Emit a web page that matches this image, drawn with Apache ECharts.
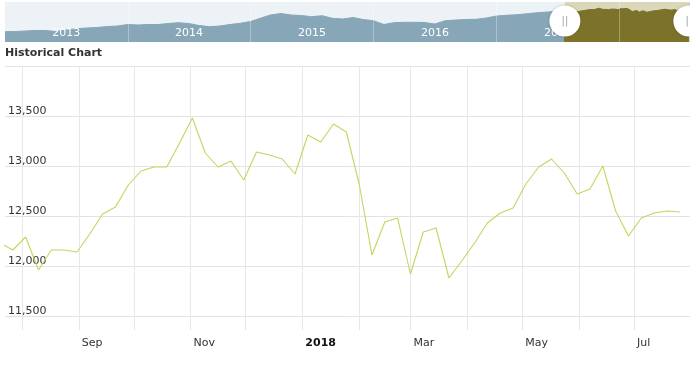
<!DOCTYPE html>
<html>
<head>
<meta charset="utf-8">
<script src="https://cdn.jsdelivr.net/npm/echarts@6/dist/echarts.min.js"></script>
<style>
html,body{margin:0;padding:0;background:#fff;}
#chart{width:690px;height:382px;}
</style>
</head>
<body>
<div id="chart"></div>
<script>
// ---- Main chart data (weekly closes) ----
const weekDates = [
  '2017-07-20','2017-07-27','2017-08-03','2017-08-10','2017-08-17','2017-08-24','2017-08-31',
  '2017-09-07','2017-09-14','2017-09-21','2017-09-28','2017-10-05','2017-10-12','2017-10-19','2017-10-26',
  '2017-11-02','2017-11-09','2017-11-16','2017-11-23','2017-11-30','2017-12-07','2017-12-14','2017-12-21','2017-12-28',
  '2018-01-04','2018-01-11','2018-01-18','2018-01-25','2018-02-01','2018-02-08','2018-02-15','2018-02-22',
  '2018-03-01','2018-03-08','2018-03-15','2018-03-22','2018-03-29','2018-04-05','2018-04-12','2018-04-19','2018-04-26',
  '2018-05-03','2018-05-10','2018-05-17','2018-05-24','2018-05-31','2018-06-07','2018-06-14','2018-06-21','2018-06-28',
  '2018-07-05','2018-07-12','2018-07-19','2018-07-26'
];
const closeValues = [
  12230,12160,12290,11960,12160,12160,12140,
  12320,12520,12590,12810,12950,12990,12990,13230,
  13480,13130,12990,13050,12860,13140,13110,13070,12920,
  13310,13240,13420,13340,12820,12110,12440,12480,
  11920,12340,12380,11880,12050,12230,12430,12530,12580,
  12820,12990,13070,12930,12720,12770,13000,12550,12300,
  12480,12530,12550,12540
];

// ---- Navigator history (monthly, Jan 2013 - Jul 2017) ----
const navMonths = [
  '2013-01-01','2013-02-01','2013-03-01','2013-04-01','2013-05-01','2013-06-01','2013-07-01','2013-08-01','2013-09-01','2013-10-01','2013-11-01','2013-12-01',
  '2014-01-01','2014-02-01','2014-03-01','2014-04-01','2014-05-01','2014-06-01','2014-07-01','2014-08-01','2014-09-01','2014-10-01','2014-11-01','2014-12-01',
  '2015-01-01','2015-02-01','2015-03-01','2015-04-01','2015-05-01','2015-06-01','2015-07-01','2015-08-01','2015-09-01','2015-10-01','2015-11-01','2015-12-01',
  '2016-01-01','2016-02-01','2016-03-01','2016-04-01','2016-05-01','2016-06-01','2016-07-01','2016-08-01','2016-09-01','2016-10-01','2016-11-01','2016-12-01',
  '2017-01-01','2017-02-01','2017-03-01','2017-04-01','2017-05-01','2017-06-01','2017-07-01'
];
const navHistory = [
  4120,4200,4400,4600,4600,4200,4800,5320,5600,5800,6200,6400,
  7000,6800,7000,7000,7400,7720,7400,6600,6120,6400,7000,7480,
  8200,9600,10800,11400,10800,10600,10120,10520,9480,9200,9800,9000,
  8520,7000,7720,7880,7880,7800,7200,8520,8800,9000,9080,9600,
  10400,10680,10920,11280,11720,12000,12280
];

// ---- Axis ticks / labels ----
const monthTicks = ['2017-08-01','2017-09-01','2017-10-01','2017-11-01','2017-12-01','2018-01-01',
  '2018-02-01','2018-03-01','2018-04-01','2018-05-01','2018-06-01','2018-07-01'];
const monthLabelTicks = ['2017-09-01','2017-11-01','2018-01-01','2018-03-01','2018-05-01','2018-07-01'];
const monthNames = ['Jan','Feb','Mar','Apr','May','Jun','Jul','Aug','Sep','Oct','Nov','Dec'];
const yTicks = [11500, 12000, 12500, 13000, 13500, 14000];
const yearTicks = ['2014-01-01','2015-01-01','2016-01-01','2017-01-01','2018-01-01'];
const yearLabelTicks = ['2013-07-02','2014-07-02','2015-07-02','2016-07-02','2017-07-02'];

const ts = s => new Date(s).getTime();
const mainMin = Date.UTC(2017, 6, 22, 17);
const mainMax = Date.UTC(2018, 6, 31, 14);
const navMin = Date.UTC(2013, 0, 1);
const navMax = Date.UTC(2018, 6, 29, 12);

const mainData = weekDates.map((d, i) => [ts(d), closeValues[i]]);
const navData = navMonths.map((d, i) => [ts(d), navHistory[i]]).concat(mainData);

const FONT = 'DejaVu Sans';
const chart = echarts.init(document.getElementById('chart'), null, {renderer: 'canvas'});
chart.setOption({
  animation: false,
  backgroundColor: '#fff',
  title: {
    text: 'Historical Chart', left: 5, top: 48, padding: 0,
    textStyle: {fontFamily: FONT, fontSize: 11, fontWeight: 'bold', color: '#333'}
  },
  grid: [
    {left: 5, right: 0, top: 66, height: 250, show: false},
    {left: 5, right: 0, top: 2, height: 40, show: true, backgroundColor: '#edf2f6', borderWidth: 0}
  ],
  xAxis: [
    {
      type: 'value', gridIndex: 0, min: mainMin, max: mainMax,
      axisLine: {show: false},
      axisTick: {show: true, length: 14, customValues: monthTicks.map(ts), lineStyle: {color: '#e6e6e6'}},
      splitLine: {show: true, lineStyle: {color: '#e8e8e8', width: 1}},
      axisLabel: {
        customValues: monthLabelTicks.map(ts),
        align: 'left', padding: [0, 0, 0, 3], margin: 22,
        fontFamily: FONT, fontSize: 11, color: '#333',
        formatter: function (v) {
          const d = new Date(v);
          if (d.getUTCMonth() === 0) return '{b|' + d.getUTCFullYear() + '}';
          return monthNames[d.getUTCMonth()];
        },
        rich: {b: {fontFamily: FONT, fontSize: 11, fontWeight: 'bold', color: '#111'}}
      }
    },
    {
      type: 'value', gridIndex: 1, min: navMin, max: navMax, z: 4,
      axisLine: {show: false},
      axisTick: {show: false, customValues: yearTicks.map(ts)},
      splitLine: {show: true, lineStyle: {color: 'rgba(255,255,255,0.3)', width: 1}},
      axisLabel: {
        customValues: yearLabelTicks.map(ts), inside: true, margin: 3,
        fontFamily: FONT, fontSize: 11, color: '#ffffff',
        formatter: v => String(new Date(v).getUTCFullYear())
      }
    }
  ],
  yAxis: [
    {
      type: 'value', gridIndex: 0, min: yTicks[0], max: yTicks[yTicks.length - 1], interval: 500,
      axisLine: {show: false}, axisTick: {show: false},
      splitLine: {show: true, lineStyle: {color: '#e3e3e3', width: 1}},
      axisLabel: {
        inside: true, margin: 3, verticalAlign: 'bottom', lineHeight: 9,
        fontFamily: FONT, fontSize: 11, color: '#333',
        formatter: v => (v === 14000 ? '' : v.toLocaleString('en-US'))
      }
    },
    {type: 'value', gridIndex: 1, min: 0, max: 16000, show: false, splitLine: {show: false}}
  ],
  series: [
    {
      name: 'Close', type: 'line', xAxisIndex: 0, yAxisIndex: 0,
      data: mainData, showSymbol: false, symbol: 'none', clip: true,
      lineStyle: {color: '#c2d65e', width: 1.1}, z: 2
    },
    {
      name: 'Navigator', type: 'line', xAxisIndex: 1, yAxisIndex: 1,
      data: navData, showSymbol: false, symbol: 'none',
      lineStyle: {color: '#87a6b8', width: 1}, areaStyle: {color: '#87a6b8', opacity: 1}, z: 2,
      markArea: {silent: true, itemStyle: {color: '#dbd8b9'}, data: [[{xAxis: mainMin}, {xAxis: navMax}]]}
    },
    {
      name: 'Selected', type: 'line', xAxisIndex: 1, yAxisIndex: 1,
      data: mainData, showSymbol: false, symbol: 'none',
      lineStyle: {color: '#7d7229', width: 1}, areaStyle: {color: '#7d7229', opacity: 1}, z: 3
    },
    {
      name: 'Handles', type: 'scatter', xAxisIndex: 1, yAxisIndex: 1, z: 5, clip: false,
      data: [[mainMin, 8400], [ts(weekDates[weekDates.length - 1]), 8400]],
      symbol: 'circle', symbolSize: 31,
      itemStyle: {color: '#ffffff', opacity: 1, shadowBlur: 3, shadowColor: 'rgba(0,0,0,0.2)'},
      label: {show: true, position: 'inside', formatter: '||', color: '#a0a0a0', fontFamily: FONT, fontSize: 10}
    }
  ]
});
</script>
</body>
</html>
